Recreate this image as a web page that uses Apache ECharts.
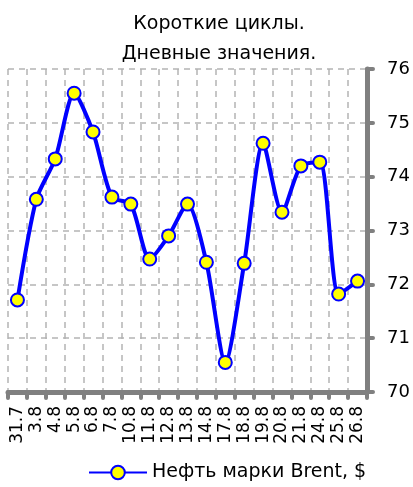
<!DOCTYPE html>
<html>
<head>
<meta charset="utf-8">
<script src="https://cdn.jsdelivr.net/npm/echarts@6/dist/echarts.min.js"></script>
<style>
  html, body { margin: 0; padding: 0; background: #fff; }
  #chart { width: 413px; height: 487px; }
</style>
</head>
<body>
<div id="chart"></div>
<script>
// даты (день.месяц)
var days = ["31.7", "3.8", "4.8", "5.8", "6.8", "7.8", "10.8", "11.8", "12.8", "13.8",
            "14.8", "17.8", "18.8", "19.8", "20.8", "21.8", "24.8", "25.8", "26.8"];
// Нефть марки Brent, $
var brent = [71.71, 73.58, 74.33, 75.55, 74.83, 73.62, 73.49, 72.47, 72.90, 73.49,
             72.41, 70.55, 72.39, 74.62, 73.34, 74.20, 74.27, 71.82, 72.06];
var yMin = 70, yMax = 76, yStep = 1;

var font = "DejaVu Sans";
var chart = echarts.init(document.getElementById("chart"));
var option = {
  animation: false,
  textStyle: { fontFamily: font },
  title: {
    text: "Короткие циклы.\nДневные значения.",
    left: 214,
    top: 4,
    textAlign: "center",
    textStyle: {
      fontFamily: font,
      fontSize: 19,
      fontWeight: "normal",
      color: "#000",
      lineHeight: 30
    }
  },
  legend: {
    data: ["Нефть марки Brent, $"],
    bottom: 0,
    left: 83,
    itemWidth: 58,
    itemHeight: 17,
    itemGap: 4,
    textStyle: { fontFamily: font, fontSize: 19, color: "#000" }
  },
  grid: { left: 8, right: 46, top: 69, bottom: 95 },
  xAxis: {
    type: "category",
    data: days,
    boundaryGap: true,
    axisLine: { lineStyle: { color: "#808080", width: 5, cap: "round" } },
    axisTick: { show: true, length: 6, lineStyle: { color: "#808080", width: 4, cap: "round" } },
    axisLabel: {
      rotate: 90,
      margin: 14,
      interval: 0,
      fontFamily: font,
      fontSize: 17,
      color: "#000"
    },
    splitLine: {
      show: true,
      interval: 0,
      lineStyle: { color: "#b4b4b4", width: 1.5, type: [6, 5] }
    }
  },
  yAxis: {
    type: "value",
    position: "right",
    min: yMin,
    max: yMax,
    interval: yStep,
    axisLine: { show: true, lineStyle: { color: "#808080", width: 5, cap: "round" } },
    axisTick: { show: true, inside: false, length: 6, lineStyle: { color: "#808080", width: 4, cap: "round" } },
    axisLabel: { margin: 20, fontFamily: font, fontSize: 18, color: "#000" },
    splitLine: {
      show: true,
      lineStyle: { color: "#b4b4b4", width: 1.5, type: [6, 5] }
    }
  },
  series: [{
    name: "Нефть марки Brent, $",
    type: "line",
    data: brent,
    smooth: 0.25,
    symbol: "circle",
    symbolSize: 13,
    lineStyle: { color: "#0000ff", width: 4 },
    itemStyle: { color: "#ffff00", borderColor: "#0000ff", borderWidth: 2 }
  }]
};
chart.setOption(option);
</script>
</body>
</html>
